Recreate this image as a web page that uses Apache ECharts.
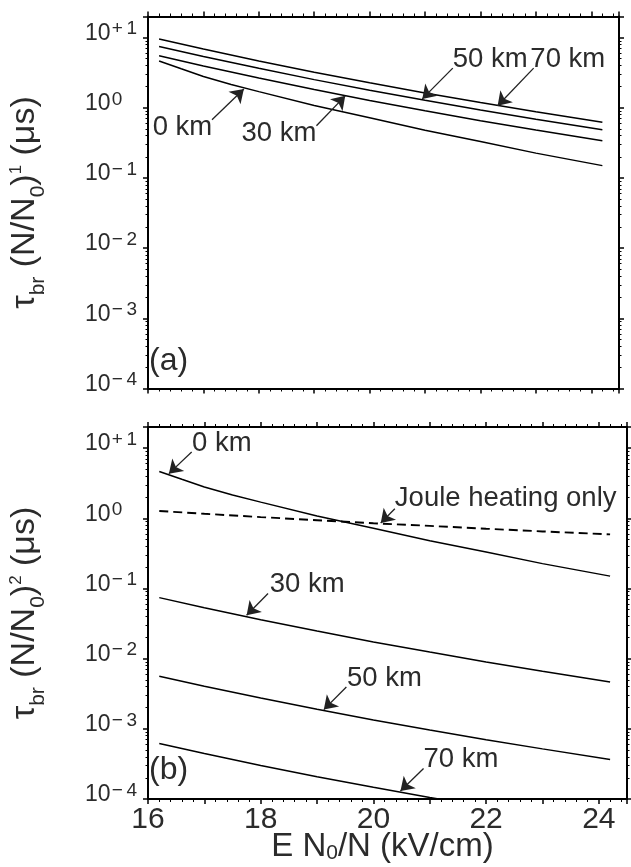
<!DOCTYPE html>
<html><head><meta charset="utf-8">
<script src="https://cdn.jsdelivr.net/npm/echarts@6/dist/echarts.min.js"></script>
<style>html,body{margin:0;padding:0;background:#fff}#c{width:631px;height:867px}</style>
</head><body><div id="c"></div><script>
const FONT = '"Liberation Sans", Arial, Helvetica, sans-serif';
const TXT = '#2b2b2b';

// tick labels
const xTickLabels = ['16', '18', '20', '22', '24'];
const yExpLabels = ['−4', '−3', '−2', '−1', '0', '+1'];   // exponents of 10, from 1e-4 to 1e+1

// x values (kV/cm)
const xs  = [16.2, 17, 18, 19, 20, 21, 22, 23, 24.2];
const xs0 = [16.2, 16.6, 17, 17.5, 18, 19, 20, 21, 22, 23, 24.2];

// panel (a): tau_br (N/N0)^1 in microseconds
const a_0km  = [4.65, 3.6, 2.8, 2.15, 1.7, 1.08, 0.72, 0.48, 0.33, 0.226, 0.15];
const a_30km = [5.51, 3.94, 2.65, 1.82, 1.27, 0.908, 0.656, 0.482, 0.338];
const a_50km = [7.46, 5.38, 3.65, 2.52, 1.78, 1.28, 0.931, 0.689, 0.488];
const a_70km = [9.53, 6.87, 4.66, 3.22, 2.27, 1.63, 1.19, 0.879, 0.622];

// panel (b): tau_br (N/N0)^2 in microseconds
const b_0km   = [4.65, 3.6, 2.8, 2.15, 1.7, 1.08, 0.72, 0.48, 0.33, 0.226, 0.15];
const b_joule = [1.27, 1.16, 1.04, 0.94, 0.85, 0.78, 0.71, 0.65, 0.59];
const b_30km  = [0.0741, 0.0532, 0.0358, 0.0247, 0.0173, 0.0124, 0.00897, 0.0066, 0.00465];
const b_50km  = [5.61e-3, 4.05e-3, 2.74e-3, 1.90e-3, 1.34e-3, 9.6e-4, 7.0e-4, 5.18e-4, 3.66e-4];
const b_70km  = [6.18e-4, 4.45e-4, 3.01e-4, 2.08e-4, 1.47e-4, 1.05e-4, 7.7e-5, 5.7e-5, 4.0e-5];

// annotations (data coordinates): text anchor, arrow tail, arrow tip
const annA = {
  '0 km':  { at: [17.16, 0.52],  side: 'right', from: [17.155, 0.675], to: [17.73, 1.85] },
  '30 km': { at: [19.04, 0.426], side: 'right', from: [19.04, 0.554],  to: [19.56, 1.48] },
  '50 km': { at: [21.5, 4.83],   side: 'left',  from: [21.5, 3.68],    to: [20.95, 1.34] },
  '70 km': { at: [22.9, 4.83],   side: 'left',  from: [22.96, 3.68],   to: [22.31, 1.07] }
};
const annB = {
  '0 km':  { at: [16.78, 11.7],  side: 'left', from: [16.775, 8.8],  to: [16.37, 4.33] },
  'Joule heating only': { at: [20.38, 1.93], side: 'left', from: [20.38, 1.37], to: [20.13, 0.857] },
  '30 km': { at: [18.16, 0.115], side: 'left', from: [18.13, 0.0846], to: [17.75, 0.0415] },
  '50 km': { at: [19.53, 5.26e-3], side: 'left', from: [19.52, 3.95e-3], to: [19.12, 1.88e-3] },
  '70 km': { at: [20.89, 3.69e-4], side: 'left', from: [20.89, 2.72e-4], to: [20.48, 1.30e-4] }
};

const pairs = (x, y) => x.map((v, i) => [v, y[i]]);

function annot(name, a) {
  if (!a) return {};
  return {
    markLine: {
      silent: true, animation: false, symbol: ['none', 'arrow'], symbolSize: 13,
      label: { show: false },
      lineStyle: { color: '#222', width: 1.3, type: 'solid' },
      emphasis: { disabled: true },
      data: [[{ coord: a.from }, { coord: a.to }]]
    },
    markPoint: {
      silent: true, animation: false, symbol: 'circle', symbolSize: 0.01,
      itemStyle: { color: 'rgba(0,0,0,0)' },
      label: {
        show: true, position: a.side === 'left' ? 'right' : 'left', distance: 0,
        formatter: name, fontSize: 27.5, fontFamily: FONT, color: TXT
      },
      data: [{ coord: a.at }]
    }
  };
}

function line(name, xArr, yArr, axis, ann, dashed) {
  return Object.assign({
    type: 'line', name: name, xAxisIndex: axis, yAxisIndex: axis,
    data: pairs(xArr, yArr), showSymbol: false, symbol: 'none', clip: true, silent: true,
    lineStyle: { color: '#000', width: dashed ? 1.9 : 1.5, type: dashed ? [9, 5] : 'solid' }
  }, annot(name, ann));
}

const axLine = { show: true, onZero: false, lineStyle: { color: '#000', width: 2 } };

function xAx(grid, pos, labels, extra) {
  return Object.assign({
    type: 'value', gridIndex: grid, position: pos, min: 16, max: 24.5, interval: 1,
    axisLine: axLine,
    axisTick: { show: true, inside: false, length: 5, lineStyle: { color: '#000', width: 1.5 } },
    minorTick: { show: true, splitNumber: 5, length: 3, lineStyle: { color: '#000', width: 1 } },
    splitLine: { show: false }, minorSplitLine: { show: false },
    axisLabel: labels ? {
      show: true, margin: 6, fontSize: 30, fontFamily: FONT, color: TXT,
      formatter: v => { const i = xTickLabels.indexOf(String(v)); return i >= 0 ? xTickLabels[i] : ''; }
    } : { show: false }
  }, extra || {});
}

function yAx(grid, pos, labels, extra) {
  return Object.assign({
    type: 'log', gridIndex: grid, position: pos, min: 1e-4, max: 20, logBase: 10,
    axisLine: axLine,
    axisTick: { show: true, inside: false, length: 5, lineStyle: { color: '#000', width: 1.5 } },
    minorTick: { show: true, splitNumber: 9, length: 2.5, lineStyle: { color: '#000', width: 1 } },
    splitLine: { show: false }, minorSplitLine: { show: false },
    axisLabel: labels ? {
      show: true, margin: 63, align: 'left', color: TXT, fontFamily: FONT, fontSize: 23,
      padding: [0, 0, 8, 0],
      formatter: v => {
        const e = Math.round(Math.log10(v));
        if (Math.abs(Math.log10(v) - e) > 1e-6) return '';
        const i = e + 4;
        if (i < 0 || i >= yExpLabels.length) return '';
        const s = yExpLabels[i];
        const sp = s.length > 1 ? s[0] + '\u2009' + s.slice(1) : s;
        return '{b|10}{g| }{s|' + sp + '}';
      },
      rich: {
        b: { fontSize: 23, lineHeight: 28, fontFamily: FONT, color: TXT },
        g: { fontSize: 4, lineHeight: 4, fontFamily: FONT },
        s: { fontSize: 19, lineHeight: 19, verticalAlign: 'top', fontFamily: FONT, color: TXT }
      }
    } : { show: false }
  }, extra || {});
}

const nameRich = {
  m: { fontSize: 34, lineHeight: 34, verticalAlign: 'top', fontFamily: FONT, color: TXT },
  sub: { fontSize: 21, lineHeight: 21, padding: [27, 0, 0, 0], fontFamily: FONT, color: TXT },
  sup: { fontSize: 17, lineHeight: 17, verticalAlign: 'top', fontFamily: FONT, color: TXT }
};
const yName = p => '{m|τ}{sub|br}{m| (N/N}{sub|0}{m|)}{sup|' + p + '}{m| (μs)}';

const option = {
  animation: false,
  backgroundColor: '#fff',
  textStyle: { fontFamily: FONT },
  grid: [
    { left: 148, top: 16.5, width: 471, height: 372, containLabel: false, outerBoundsMode: 'none' },
    { left: 148, top: 427, width: 479, height: 372, containLabel: false, outerBoundsMode: 'none' }
  ],
  xAxis: [
    xAx(0, 'bottom', false),
    xAx(0, 'top', false),
    xAx(1, 'bottom', true, {
      name: '{m|E N}{sub|0}{m|/N (kV/cm)}', nameLocation: 'middle', nameGap: 31,
      nameMoveOverlap: false,
      nameTextStyle: {
        fontSize: 33, fontFamily: FONT, color: TXT, padding: [0, 10, 0, 0],
        rich: {
          m: { fontSize: 33, lineHeight: 34, verticalAlign: 'top', fontFamily: FONT, color: TXT },
          sub: { fontSize: 21, lineHeight: 21, verticalAlign: 'bottom', fontFamily: FONT, color: TXT }
        }
      }
    }),
    xAx(1, 'top', false)
  ],
  yAxis: [
    yAx(0, 'left', true, {
      name: yName('1'), nameLocation: 'middle', nameRotate: 90, nameGap: 106,
      nameTextStyle: { fontSize: 34, fontFamily: FONT, color: TXT, rich: nameRich }
    }),
    yAx(0, 'right', false),
    yAx(1, 'left', true, {
      name: yName('2'), nameLocation: 'middle', nameRotate: 90, nameGap: 106,
      nameTextStyle: { fontSize: 34, fontFamily: FONT, color: TXT, rich: nameRich }
    }),
    yAx(1, 'right', false)
  ],
  graphic: [
    { type: 'text', left: 149, top: 345, silent: true, style: { text: '(a)', font: '32px ' + FONT, fill: TXT } },
    { type: 'text', left: 149, top: 754, silent: true, style: { text: '(b)', font: '32px ' + FONT, fill: TXT } }
  ],
  series: [
    line('0 km', xs0, a_0km, 0, annA['0 km']),
    line('30 km', xs, a_30km, 0, annA['30 km']),
    line('50 km', xs, a_50km, 0, annA['50 km']),
    line('70 km', xs, a_70km, 0, annA['70 km']),
    line('0 km', xs0, b_0km, 2, annB['0 km']),
    line('Joule heating only', xs, b_joule, 2, annB['Joule heating only'], true),
    line('30 km', xs, b_30km, 2, annB['30 km']),
    line('50 km', xs, b_50km, 2, annB['50 km']),
    line('70 km', xs, b_70km, 2, annB['70 km'])
  ]
};

const chart = echarts.init(document.getElementById('c'), null, { renderer: 'canvas' });
chart.setOption(option);
</script></body></html>
